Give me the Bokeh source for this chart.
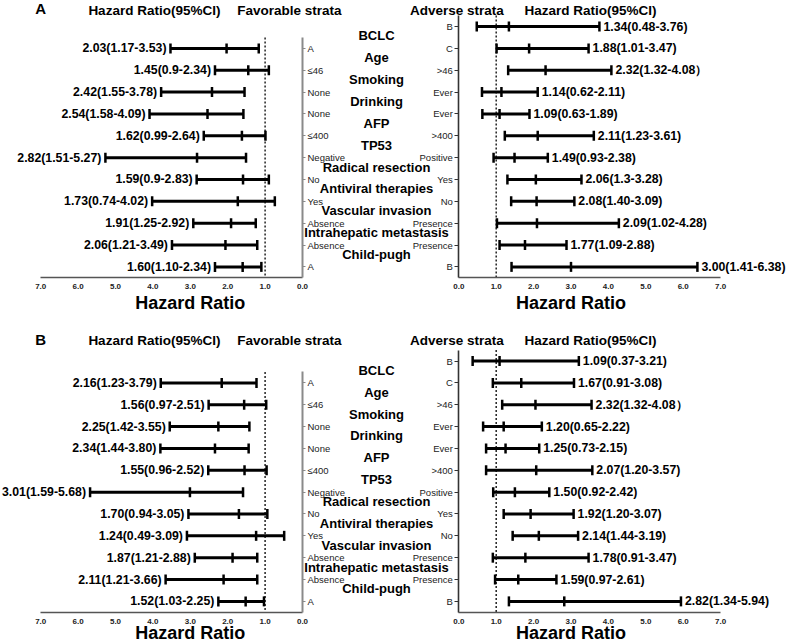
import math
from bokeh.plotting import figure
from bokeh.models import (Range1d, LinearAxis, FixedTicker, ColumnDataSource, LabelSet,
                          CustomJSTickFormatter)
from bokeh.layouts import column
from bokeh.embed import file_html
from bokeh.resources import INLINE
from bokeh.core.properties import value

# ---------------- data ----------------
group_titles = ["BCLC", "Age", "Smoking", "Drinking", "AFP", "TP53", "Radical resection",
                "Antiviral therapies", "Vascular invasion", "Intrahepatic metastasis", "Child-pugh"]
fav_strata = ["A", "≤46", "None", "None", "≤400", "Negative", "No", "Yes", "Absence", "Absence", "A"]
adv_strata = ["B", "C", ">46", "Ever", "Ever", ">400", "Positive", "Yes", "No", "Presence", "Presence", "B"]

a_fav_hr = [2.03, 1.45, 2.42, 2.54, 1.62, 2.82, 1.59, 1.73, 1.91, 2.06, 1.60]
a_fav_lo = [1.17, 0.90, 1.55, 1.58, 0.99, 1.51, 0.90, 0.74, 1.25, 1.21, 1.10]
a_fav_hi = [3.53, 2.34, 3.78, 4.09, 2.64, 5.27, 2.83, 4.02, 2.92, 3.49, 2.34]
a_fav_txt = ["2.03(1.17-3.53)", "1.45(0.9-2.34)", "2.42(1.55-3.78)", "2.54(1.58-4.09)",
             "1.62(0.99-2.64)", "2.82(1.51-5.27)", "1.59(0.9-2.83)", "1.73(0.74-4.02)",
             "1.91(1.25-2.92)", "2.06(1.21-3.49)", "1.60(1.10-2.34)"]
a_adv_hr = [1.34, 1.88, 2.32, 1.14, 1.09, 2.11, 1.49, 2.06, 2.08, 2.09, 1.77, 3.00]
a_adv_lo = [0.48, 1.01, 1.32, 0.62, 0.63, 1.23, 0.93, 1.30, 1.40, 1.02, 1.09, 1.41]
a_adv_hi = [3.76, 3.47, 4.08, 2.11, 1.89, 3.61, 2.38, 3.28, 3.09, 4.28, 2.88, 6.38]
a_adv_txt = ["1.34(0.48-3.76)", "1.88(1.01-3.47)", "2.32(1.32-4.08）", "1.14(0.62-2.11)",
             "1.09(0.63-1.89)", "2.11(1.23-3.61)", "1.49(0.93-2.38)", "2.06(1.3-3.28)",
             "2.08(1.40-3.09)", "2.09(1.02-4.28)", "1.77(1.09-2.88)", "3.00(1.41-6.38)"]

b_fav_hr = [2.16, 1.56, 2.25, 2.34, 1.55, 3.01, 1.70, 1.24, 1.87, 2.11, 1.52]
b_fav_lo = [1.23, 0.97, 1.42, 1.44, 0.96, 1.59, 0.94, 0.49, 1.21, 1.21, 1.03]
b_fav_hi = [3.79, 2.51, 3.55, 3.80, 2.52, 5.68, 3.05, 3.09, 2.88, 3.66, 2.25]
b_fav_txt = ["2.16(1.23-3.79)", "1.56(0.97-2.51)", "2.25(1.42-3.55)", "2.34(1.44-3.80)",
             "1.55(0.96-2.52)", "3.01(1.59-5.68)", "1.70(0.94-3.05)", "1.24(0.49-3.09)",
             "1.87(1.21-2.88)", "2.11(1.21-3.66)", "1.52(1.03-2.25)"]
b_adv_hr = [1.09, 1.67, 2.05, 1.20, 1.25, 2.07, 1.50, 1.92, 2.14, 1.78, 1.59, 2.82]
b_adv_lo = [0.37, 0.91, 1.16, 0.65, 0.73, 0.73, 0.92, 1.20, 1.44, 0.91, 0.97, 1.34]
b_adv_hi = [3.21, 3.08, 3.55, 2.22, 2.15, 3.57, 2.42, 3.07, 3.19, 3.47, 2.61, 5.94]
b_adv_txt = ["1.09(0.37-3.21)", "1.67(0.91-3.08)", "2.32(1.32-4.08）", "1.20(0.65-2.22)",
             "1.25(0.73-2.15)", "2.07(1.20-3.57)", "1.50(0.92-2.42)", "1.92(1.20-3.07)",
             "2.14(1.44-3.19)", "1.78(0.91-3.47)", "1.59(0.97-2.61)", "2.82(1.34-5.94)"]

x_ticks = [0, 1, 2, 3, 4, 5, 6, 7]
x_tick_labels = ["0.0", "1.0", "2.0", "3.0", "4.0", "5.0", "6.0", "7.0"]
header_left = ["Hazard Ratio(95%CI)", "Favorable strata"]
header_right = ["Adverse strata", "Hazard Ratio(95%CI)"]
axis_title = "Hazard Ratio"
REF_HR = 1.0
X_MAX = 7

FAV_ROWS = list(range(2, 2 + len(fav_strata)))
ADV_ROWS = list(range(1, 1 + len(adv_strata)))

# ---------------- layout constants (pixels) ----------------
FONT = value("Liberation Sans")
W = 787
S = 37.4            # px per HR unit
X0_LEFT = 302       # px of HR=0 on the favorable (reversed) side
X0_RIGHT = 458.3    # px of HR=0 on the adverse side
ROW = 21.85         # px per row
Y_TOP, Y_BOT = 0.5, len(adv_strata) + 0.5


def labels(p, x, y, text, rn="default", **kw):
    src = ColumnDataSource(dict(x=list(x), y=list(y), text=list(text)))
    ls = LabelSet(x="x", y="y", text="text", source=src, x_range_name=rn,
                  text_font=FONT, **kw)
    p.add_layout(ls)


def hidden_label_axis(**kw):
    return LinearAxis(formatter=CustomJSTickFormatter(code="return '';"),
                      major_label_text_font_size="0px", major_label_standoff=0,
                      major_tick_out=0, minor_tick_out=0, minor_tick_in=0, **kw)


def panel(letter, fav, adv, height, top, letter_row, header_row, title_row):
    p = figure(width=W, height=height,
               x_range=Range1d(-X0_RIGHT / S, (W - X0_RIGHT) / S),
               y_range=Range1d(Y_TOP + (height - top) / ROW, Y_TOP - top / ROW),
               x_axis_type=None, y_axis_type=None, output_backend="svg",
               toolbar_location=None, min_border=0)
    p.extra_x_ranges = {"left": Range1d(X0_LEFT / S, (X0_LEFT - W) / S)}
    p.outline_line_color = None
    p.grid.visible = False

    # x axes (both along the bottom of the bars)
    for rn in ("default", "left"):
        ax = hidden_label_axis(x_range_name=rn, fixed_location=Y_BOT, bounds=(0, X_MAX),
                               ticker=FixedTicker(ticks=x_ticks),
                               axis_line_color="#555555", axis_line_width=1.6,
                               major_tick_in=0, major_tick_line_color=None)
        p.add_layout(ax, "below")
        labels(p, x_ticks, [Y_BOT] * len(x_ticks), x_tick_labels, rn=rn, text_align="center",
               text_baseline="middle", y_offset=-9, text_font_size="8px",
               text_font_style="bold", text_color="#222222")

    # vertical axis of the favorable side (ticks pointing right)
    ayl = hidden_label_axis(x_range_name="left", fixed_location=0,
                            bounds=(FAV_ROWS[0] - 0.5, Y_BOT),
                            ticker=FixedTicker(ticks=FAV_ROWS),
                            axis_line_color="#8a8a8a", axis_line_width=2,
                            major_tick_in=3, major_tick_line_color="#8a8a8a")
    p.add_layout(ayl, "left")
    labels(p, [0] * len(fav_strata), FAV_ROWS, fav_strata, rn="left", text_align="left",
           text_baseline="middle", x_offset=5, text_font_size="9.5px", text_color="#222222")

    # vertical axis of the adverse side (ticks pointing left)
    ayr = hidden_label_axis(fixed_location=0, bounds=(Y_TOP, Y_BOT),
                            ticker=FixedTicker(ticks=ADV_ROWS),
                            axis_line_color="#333333", axis_line_width=1.6,
                            major_tick_in=4, major_tick_line_color="#333333")
    p.add_layout(ayr, "right")
    labels(p, [0] * len(adv_strata), ADV_ROWS, adv_strata, text_align="right",
           text_baseline="middle", x_offset=-6, text_font_size="9.5px", text_color="#222222")

    # reference lines at HR = 1
    p.segment(x0=[REF_HR], x1=[REF_HR], y0=[FAV_ROWS[0] - 0.5], y1=[Y_BOT], x_range_name="left",
              line_color="#222222", line_width=1.5, line_dash="2 2")
    p.segment(x0=[REF_HR], x1=[REF_HR], y0=[Y_TOP], y1=[Y_BOT],
              line_color="#222222", line_width=1.5, line_dash="2 2")

    # bars
    for rows, (hr, lo, hi, txt), rn, align, off in (
            (FAV_ROWS, fav, "left", "right", -4), (ADV_ROWS, adv, "default", "left", 4)):
        src = ColumnDataSource(dict(row=rows, hr=hr, lo=lo, hi=hi))
        p.segment(x0="lo", x1="hi", y0="row", y1="row", source=src, x_range_name=rn,
                  line_color="black", line_width=3)
        for col in ("lo", "hi", "hr"):
            p.scatter(x=col, y="row", source=src, marker="dash", angle=math.pi / 2, size=10,
                      line_color="black", line_width=2.5, x_range_name=rn)
        labels(p, hi, rows, txt, rn=rn, text_align=align, text_baseline="middle", x_offset=off,
               text_font_size="12.3px", text_font_style="bold", text_color="black")

    # group titles in the middle
    labels(p, [-2.2] * len(group_titles), [r - 0.57 for r in FAV_ROWS], group_titles,
           text_align="center", text_baseline="middle", text_font_size="13px",
           text_font_style="bold", text_color="black")

    # headers
    labels(p, [3.96, 0.35], [header_row] * 2, header_left, rn="left", text_align="center",
           text_baseline="middle", text_font_size="13.5px", text_font_style="bold",
           text_color="black")
    labels(p, [-0.05, 3.52], [header_row] * 2, header_right, text_align="center",
           text_baseline="middle", text_font_size="13.5px", text_font_style="bold",
           text_color="black")
    labels(p, [X_MAX], [letter_row], [letter], rn="left", text_align="center",
           text_baseline="middle", text_font_size="15px", text_font_style="bold",
           text_color="black")

    # axis titles
    for rn in ("left", "default"):
        labels(p, [3], [title_row], [axis_title], rn=rn, text_align="center",
               text_baseline="alphabetic", text_font_size="18px", text_font_style="bold",
               text_color="black")
    return p


pA = panel("A", (a_fav_hr, a_fav_lo, a_fav_hi, a_fav_txt), (a_adv_hr, a_adv_lo, a_adv_hi, a_adv_txt),
           height=320, top=15.1, letter_row=0.19, header_row=0.27, title_row=13.92)
pB = panel("B", (b_fav_hr, b_fav_lo, b_fav_hi, b_fav_txt), (b_adv_hr, b_adv_lo, b_adv_hi, b_adv_txt),
           height=323, top=29.6, letter_row=0.0, header_row=0.08, title_row=13.72)

layout = column(pA, pB, spacing=0)
open("out.html", "w").write(file_html(layout, INLINE))
